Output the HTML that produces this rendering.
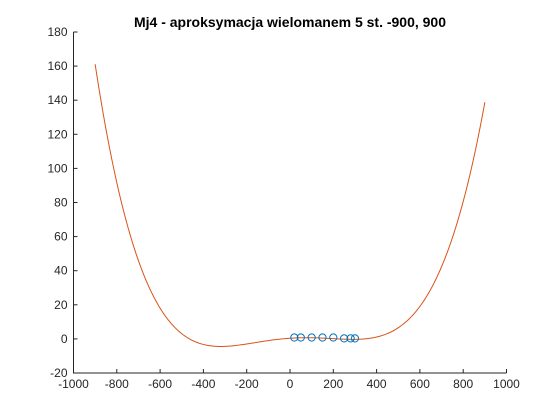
<!DOCTYPE html>
<html><head><meta charset="utf-8"><style>
html,body{margin:0;padding:0;background:#fff;}
svg{display:block;font-family:"Liberation Sans",Arial,sans-serif;}
</style></head><body>
<svg id="chart" width="560" height="420" viewBox="0 0 560 420" xmlns="http://www.w3.org/2000/svg">
<rect width="560" height="420" fill="#fff"/>
<text x="290" y="27" text-anchor="middle" font-size="14" font-weight="bold" fill="#000">Mj4 - aproksymacja wielomanem 5 st. -900, 900</text>
<g id="axes"></g>
<g id="plot"></g>
</svg>
<script>
const xTicks = [-1000,-800,-600,-400,-200,0,200,400,600,800,1000];
const yTicks = [-20,0,20,40,60,80,100,120,140,160,180];
const curveX = [-900,-800,-700,-600,-500,-400,-300,-200,-100,0,100,200,300,400,500,600,700,800,900];
const curveY = [161,92,46,17,3.5,-2.7,-4.3,-3,-1.4,0,0.4,0.4,0.3,1.8,6.5,18,41,83,138];
const pointsX = [20,50,100,150,200,250,280,300];
const pointsY = [0.8,0.8,0.8,0.8,0.8,0.3,0.3,0.3];

const L=73.5,R=506.5,T=32,B=373;
const sx=v=>L+(v+1000)/2000*(R-L);
const sy=v=>B-(v+20)/200*(B-T);
const NS='http://www.w3.org/2000/svg';
const axes=document.getElementById('axes'), plot=document.getElementById('plot');
function mk(tag,attrs,parent){const e=document.createElementNS(NS,tag);for(const k in attrs)e.setAttribute(k,attrs[k]);parent.appendChild(e);return e;}

let e=mk('path',{d:`M${L},${T}V${B}H${R}`,stroke:'#262626','stroke-width':1,fill:'none'},axes);


xTicks.forEach(t=>{
  const x=sx(t);
  let l=mk('line',{x1:x,x2:x,y1:B,y2:B-4,stroke:'#262626'},axes);
  
  
  let tx=mk('text',{x:x,y:B+15,'text-anchor':'middle','font-size':12,fill:'#262626'},axes);
  tx.textContent=t;
  
  
});
yTicks.forEach(t=>{
  const y=sy(t);
  let l=mk('line',{x1:L,x2:L+4,y1:y,y2:y,stroke:'#262626'},axes);
  
  
  let tx=mk('text',{x:L-6,y:y+4,'text-anchor':'end','font-size':12,fill:'#262626'},axes);
  tx.textContent=t;
  
  
});
// least-squares 5th-degree polynomial through the sampled curve
function polyfit(xs,ys,deg){
  const n=deg+1,A=[],b=[];
  for(let i=0;i<n;i++){A.push(new Array(n).fill(0));b.push(0);}
  xs.forEach((x0,k)=>{const x=x0/1000;for(let i=0;i<n;i++){b[i]+=ys[k]*Math.pow(x,i);for(let j=0;j<n;j++)A[i][j]+=Math.pow(x,i+j);}});
  for(let i=0;i<n;i++){let p=i;for(let r=i+1;r<n;r++)if(Math.abs(A[r][i])>Math.abs(A[p][i]))p=r;
    [A[i],A[p]]=[A[p],A[i]];[b[i],b[p]]=[b[p],b[i]];
    for(let r=0;r<n;r++){if(r===i)continue;const f=A[r][i]/A[i][i];for(let c=i;c<n;c++)A[r][c]-=f*A[i][c];b[r]-=f*b[i];}}
  return b.map((v,i)=>v/A[i][i]);
}
const coef=polyfit(curveX,curveY,5);
const ev=x=>coef.reduce((s,c,i)=>s+c*Math.pow(x/1000,i),0);
const x0=curveX[0],x1=curveX[curveX.length-1];
let d='';
for(let k=0;k<=400;k++){const x=x0+(x1-x0)*k/400;d+=(k?'L':'M')+sx(x).toFixed(2)+','+sy(ev(x)).toFixed(2);}
let c=mk('path',{d:d,stroke:'#D95319','stroke-width':1,fill:'none'},plot);


pointsX.forEach((x,i)=>{
  let m=mk('circle',{cx:sx(x),cy:sy(pointsY[i]),r:3.6,stroke:'#0072BD','stroke-width':1,fill:'none'},plot);
  
  
});
</script>
</body></html>
